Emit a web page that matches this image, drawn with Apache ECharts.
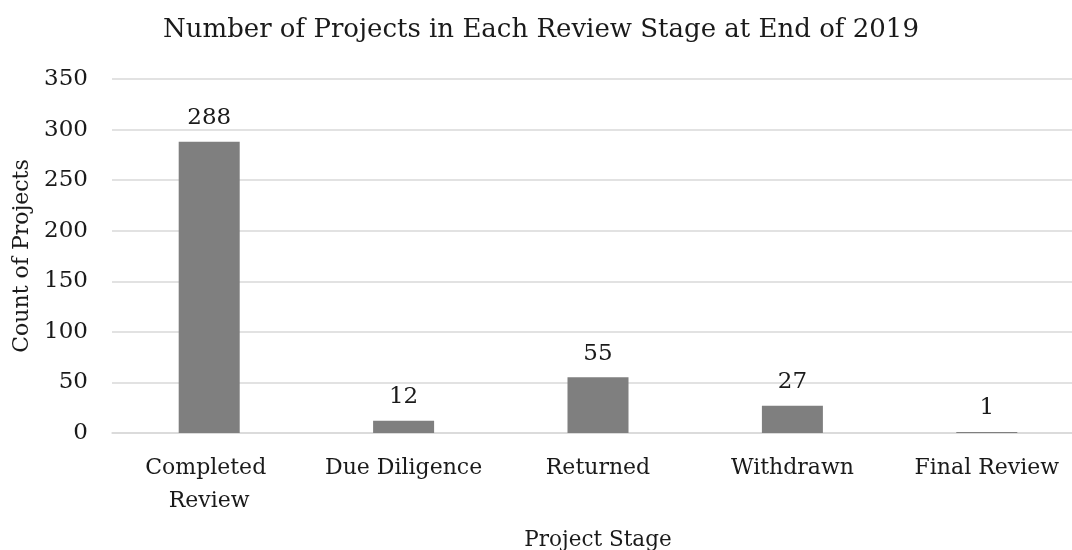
<!DOCTYPE html>
<html>
<head>
<meta charset="utf-8">
<script src="https://cdn.jsdelivr.net/npm/echarts@6/dist/echarts.min.js"></script>
<style>
html,body{margin:0;padding:0;background:#fff;}
#chart{width:1072px;height:550px;}
</style>
</head>
<body>
<div id="chart"></div>
<script>
const categories = ["Completed Review", "Due Diligence", "Returned", "Withdrawn", "Final Review"];
const counts = [288, 12, 55, 27, 1];
const yTicks = [0, 50, 100, 150, 200, 250, 300, 350];
const titleText = "Number of Projects in Each Review Stage at End of 2019";
const xName = "Project Stage";
const yName = "Count of Projects";

const serif = "'DejaVu Serif', 'Liberation Serif', serif";
const chart = echarts.init(document.getElementById('chart'));
chart.setOption({
  backgroundColor: '#ffffff',
  animation: false,
  title: {
    text: titleText,
    left: 163,
    top: 17,
    padding: 0,
    textStyle: { fontFamily: serif, fontSize: 26, fontWeight: 'normal', color: '#1a1a1a' }
  },
  grid: { left: 112, top: 79, width: 972, bottom: 117, containLabel: false, outerBoundsMode: 'none' },
  xAxis: {
    type: 'category',
    data: categories,
    name: xName,
    nameLocation: 'middle',
    nameGap: 96,
    nameTextStyle: { fontFamily: serif, fontSize: 21.5, color: '#1a1a1a' },
    axisLine: { show: true, lineStyle: { color: '#d9d9d9', width: 1.5 } },
    axisTick: { show: false },
    axisLabel: { fontFamily: serif, fontSize: 22, color: '#1a1a1a', margin: 19, width: 185, overflow: 'break', lineHeight: 33, interval: 0 }
  },
  yAxis: {
    type: 'value',
    min: yTicks[0],
    max: yTicks[yTicks.length - 1],
    interval: 50,
    name: yName,
    nameLocation: 'middle',
    nameGap: 79,
    nameRotate: 90,
    nameTextStyle: { fontFamily: serif, fontSize: 22, color: '#1a1a1a' },
    axisLine: { show: false },
    axisTick: { show: false },
    axisLabel: { fontFamily: serif, fontSize: 23, color: '#1a1a1a', margin: 24 },
    splitLine: { lineStyle: { color: '#d9d9d9', width: 1.5 } }
  },
  series: [{
    type: 'bar',
    data: counts,
    barWidth: 61,
    itemStyle: { color: '#7f7f7f' },
    label: { show: true, position: 'top', distance: 12, fontFamily: serif, fontSize: 23, color: '#1a1a1a' }
  }]
});
</script>
</body>
</html>
